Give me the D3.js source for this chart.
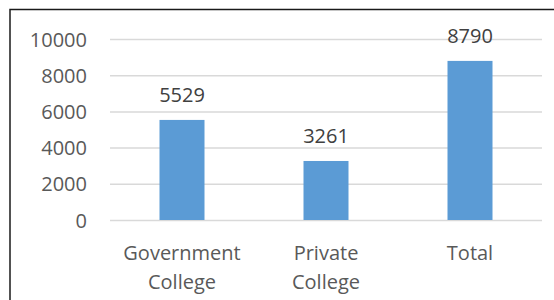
<!DOCTYPE html>
<html>
<head>
<meta charset="utf-8">
<script src="https://cdn.jsdelivr.net/npm/d3@7"></script>
<style>
  body { margin: 0; background: #fff; }
  svg text { font-family: "Open Sans", Lato, sans-serif; }
</style>
</head>
<body>
<div class="chart"></div>
<script>
// data
const categories = [["Government", "College"], ["Private", "College"], ["Total"]];
const values = [5529, 3261, 8790];
const yTicks = [0, 2000, 4000, 6000, 8000, 10000];

const svg_width = 554;
const svg_height = 300;
const margin = { top: 39, right: 12, bottom: 80, left: 110 };
const chart_width = svg_width - margin.left - margin.right;
const chart_height = svg_height - margin.top - margin.bottom;

const svg = d3.select(".chart").append("svg")
    .attr("width", svg_width)
    .attr("height", svg_height);

/* outer frame */
svg.append("rect")
    .attr("x", 10).attr("y", 9.5)
    .attr("width", svg_width + 20).attr("height", svg_height + 20)
    .attr("fill", "#fff").attr("stroke", "#1a1a1a").attr("stroke-width", 1.5);

const g = svg.append("g").attr("transform", `translate(${margin.left},${margin.top})`);

/* scales */
const idx = categories.map((d, i) => i);
const xScale = d3.scaleBand().domain(idx).range([0, chart_width])
    .paddingInner(0.6875).paddingOuter(0.34375);
const yScale = d3.scaleLinear().domain([0, 10000]).range([chart_height, 0]);

/* y axis with grid */
const yAxis = d3.axisLeft(yScale).tickValues(yTicks)
    .tickSize(-chart_width).tickPadding(23).tickFormat(d3.format("d"));
const yAxisDraw = g.append("g").call(yAxis);
yAxisDraw.select(".domain").remove();
yAxisDraw.selectAll("line").attr("stroke", "#d9d9d9").attr("stroke-width", 1.5);
yAxisDraw.selectAll("text").attr("fill", "#595959").attr("font-size", 20).attr("dy", "0.35em");

/* bars */
g.selectAll(".bar").data(values).join("rect")
    .attr("class", "bar")
    .attr("x", (d, i) => xScale(i))
    .attr("y", d => yScale(d))
    .attr("width", xScale.bandwidth())
    .attr("height", d => chart_height - yScale(d))
    .attr("fill", "#5b9bd5");

/* value labels */
g.selectAll(".val").data(values).join("text")
    .attr("class", "val")
    .attr("x", (d, i) => xScale(i) + xScale.bandwidth() / 2)
    .attr("y", d => yScale(d) - 18)
    .attr("text-anchor", "middle")
    .attr("font-size", 20)
    .attr("fill", "#404040")
    .text(d => d);

/* category labels */
const catG = g.selectAll(".cat").data(categories).join("text")
    .attr("class", "cat")
    .attr("text-anchor", "middle")
    .attr("font-size", 20)
    .attr("fill", "#595959")
    .attr("transform", (d, i) => `translate(${xScale(i) + xScale.bandwidth() / 2},${chart_height + 40})`);
catG.selectAll("tspan").data(d => d).join("tspan")
    .attr("x", 0)
    .attr("y", (d, i) => i * 29)
    .text(d => d);
</script>
</body>
</html>
